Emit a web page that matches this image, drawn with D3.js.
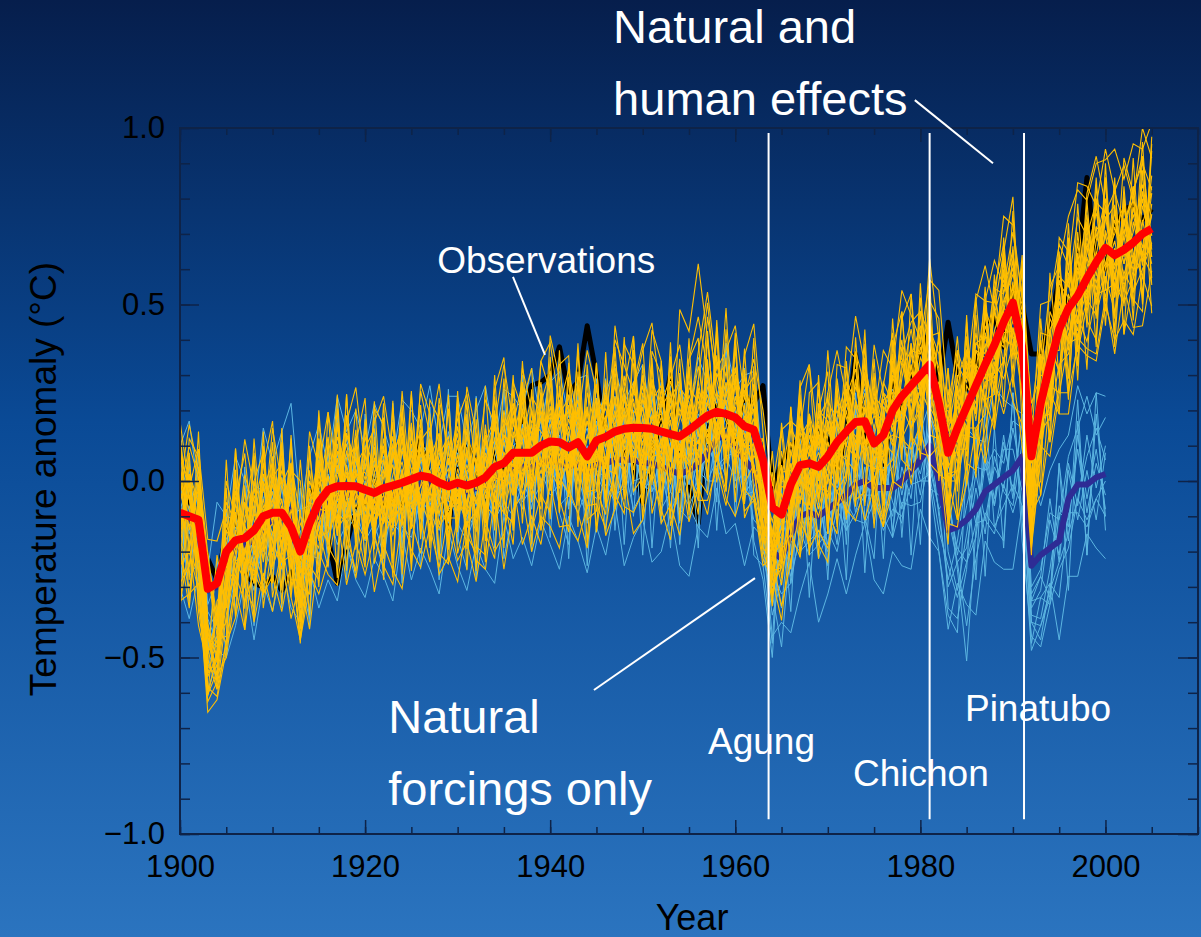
<!DOCTYPE html>
<html>
<head>
<meta charset="utf-8">
<script src="https://cdn.jsdelivr.net/npm/d3@7"></script>
<style>
  html, body { margin: 0; padding: 0; background: #0b4a95; }
  svg { display: block; font-family: "Liberation Sans", Arial, sans-serif; }
</style>
</head>
<body>
<svg id="chart" width="1201" height="937"></svg>
<script>
// Global temperature anomaly: model runs with natural + human forcings (yellow)
// vs natural forcings only (light blue), ensemble means and observations.

const firstYear = 1900;

// multi-model mean, natural + human forcings (°C), 1900-2005
const allForcingMean = [
  -0.09, -0.10, -0.11, -0.305, -0.29, -0.20, -0.168, -0.162, -0.14, -0.10,
  -0.09, -0.09, -0.13, -0.20, -0.12, -0.06, -0.025, -0.015, -0.014, -0.015,
  -0.025, -0.034, -0.02, -0.013, -0.005, 0.005, 0.015, 0.01, -0.005, -0.015,
  -0.005, -0.013, -0.005, 0.01, 0.04, 0.05, 0.08, 0.08, 0.08, 0.10,
  0.112, 0.11, 0.095, 0.11, 0.07, 0.115, 0.125, 0.14, 0.148, 0.151,
  0.15, 0.148, 0.14, 0.133, 0.126, 0.144, 0.165, 0.185, 0.196, 0.19,
  0.18, 0.155, 0.145, 0.06, -0.075, -0.095, -0.01, 0.045, 0.05, 0.04,
  0.07, 0.11, 0.14, 0.167, 0.169, 0.106, 0.13, 0.20, 0.24, 0.27,
  0.30, 0.33, 0.22, 0.08, 0.15, 0.21, 0.27, 0.33, 0.385, 0.45,
  0.505, 0.38, 0.07, 0.22, 0.33, 0.43, 0.49, 0.525, 0.575, 0.62,
  0.66, 0.64, 0.655, 0.675, 0.70, 0.715
];

// multi-model mean, natural forcings only (°C), 1900-2000
const naturalMean = [
  -0.10, -0.11, -0.13, -0.31, -0.30, -0.24, -0.19, -0.18, -0.17, -0.13,
  -0.11, -0.10, -0.08, -0.20, -0.15, -0.10, -0.06, -0.04, -0.04, -0.04,
  -0.05, -0.06, -0.05, -0.04, -0.03, -0.02, -0.01, -0.01, -0.02, 0.0,
  -0.02, -0.03, -0.02, -0.01, 0.01, 0.02, 0.04, 0.04, 0.04, 0.05,
  0.06, 0.05, 0.04, 0.05, 0.02, 0.05, 0.05, 0.06, 0.06, 0.06,
  0.05, 0.05, 0.04, 0.03, 0.02, 0.03, 0.05, 0.08, 0.12, 0.13,
  0.10, 0.06, 0.03, -0.06, -0.20, -0.22, -0.15, -0.10, -0.09, -0.10,
  -0.08, -0.06, -0.04, -0.01, 0.0, -0.02, -0.02, -0.02, 0.0, 0.03,
  0.06, 0.10, 0.0, -0.14, -0.13, -0.11, -0.08, -0.03, -0.01, 0.01,
  0.03, 0.07, -0.24, -0.21, -0.19, -0.17, -0.05, -0.01, -0.01, 0.01,
  0.02
];

// observations (°C), 1900-2005
const observed = [
  -0.01, -0.05, -0.14, -0.22, -0.28, -0.15, -0.10, -0.26, -0.29, -0.30,
  -0.27, -0.31, -0.26, -0.24, -0.04, 0.0, -0.16, -0.29, -0.18, -0.08,
  -0.06, 0.01, -0.07, -0.05, -0.07, -0.01, 0.12, 0.0, 0.02, -0.14,
  0.08, 0.11, 0.05, -0.08, 0.08, 0.02, 0.06, 0.18, 0.27, 0.28,
  0.30, 0.38, 0.25, 0.28, 0.44, 0.30, 0.12, 0.16, 0.08, 0.05,
  -0.06, 0.07, 0.18, 0.30, 0.02, -0.02, -0.12, 0.15, 0.22, 0.18,
  0.12, 0.24, 0.22, 0.27, -0.02, 0.05, 0.10, 0.12, 0.10, 0.14,
  0.12, 0.03, 0.13, 0.36, 0.10, 0.12, -0.02, 0.28, 0.20, 0.30,
  0.37, 0.42, 0.28, 0.45, 0.30, 0.26, 0.32, 0.45, 0.46, 0.38,
  0.55, 0.50, 0.36, 0.36, 0.45, 0.57, 0.48, 0.62, 0.86, 0.62,
  0.60, 0.72, 0.77, 0.78, 0.74, 0.77
];

// individual runs, natural + human forcings: departures from the mean (hundredths °C), 1900-2005
const allForcingRuns = [
  [12,-4,9,-18,-10,6,-2,13,-7,5, -11,8,2,-13,10,-5,12,-6,3,-9, 7,-3,11,-8,4,-12,6,1,-9,10, -6,9,-2,14,-8,3,-7,11,2,-6, 13,-4,6,-11,5,12,-3,9,-13,7, -5,11,-4,8,-9,3,16,-2,6,-7, 9,-10,13,-16,-7,11,-4,8,12,-9, 4,-11,10,15,-7,2,-13,9,11,-5, 13,-8,4,-20,10,-3,15,-7,9,12, -6,8,-18,11,-9,13,3,-10,16,-4, 9,-7,12,-5,10,-8],
  [-8,15,-3,-25,-20,-6,8,-5,10,-3, 6,-9,14,4,-7,11,-2,8,-12,5, -4,10,-7,3,12,-5,8,-10,6,-2, 11,-6,4,-9,15,2,-4,7,-8,13, -3,9,-6,16,-2,7,11,-5,4,-9, 10,-3,12,-7,5,14,-4,28,9,-2, -5,12,-3,6,-14,-8,9,-2,14,5, 12,-3,8,-6,16,9,4,13,-2,10, 6,15,-5,9,18,7,12,3,16,8, 14,5,-10,20,8,15,6,22,12,17, 10,18,7,15,20,11],
  [-15,-10,-20,-32,-28,-14,-9,4,-12,-6, -3,-14,-8,2,-11,-6,-15,-3,-9,-1, -12,-5,-2,-14,-7,0,-10,-4,-13,-6, -2,-11,-8,3,-9,-14,-5,-1,-10,-4, -8,-13,-2,-6,-15,-3,-9,-12,-1,-7, -11,-4,-8,-14,-2,-9,-5,-13,-3,-10, -6,-2,-12,-8,-18,-15,-4,-9,-13,-6, -10,-3,-8,-14,-5,-11,-2,-7,-12,-9, -4,-13,-10,-6,-12,-8,-15,-5,-9,-11, -7,-14,-20,-8,-15,-10,-13,-6,-18,-9, -12,-8,-15,-10,-6,-13],
  [20,5,-12,10,-22,2,14,-8,6,15, -2,10,-10,-18,4,14,-8,2,12,-4, 15,6,-9,9,-3,7,-11,13,2,-7, 8,-2,12,-6,6,11,-10,4,16,9, -7,14,2,-4,10,-8,5,13,-6,11, 3,-9,7,12,-4,10,-1,6,-11,8, 14,4,-6,-4,-20,2,12,-5,3,13, -8,7,14,-2,8,-12,6,-9,5,16, -3,10,14,-8,-12,6,-5,11,-4,3, 12,-9,-8,-14,4,-6,10,-3,7,14, -5,12,-2,8,-6,15],
  [5,20,12,-10,-30,-18,-5,10,3,-12, 9,3,-7,-5,15,-11,4,-14,8,11, -9,2,5,-12,10,3,-6,8,-3,13, -4,14,6,-2,-12,8,2,-9,6,-2, 5,-10,11,4,-8,-2,14,-6,9,-3, 15,-7,2,-5,11,-8,9,3,-4,12, -2,8,5,-20,-12,-6,3,14,-8,2, 9,-4,-7,5,-10,13,8,-3,14,-8, 5,-4,18,-10,3,10,-8,16,2,-7, 3,16,5,-6,-12,4,-9,7,-5,10, 3,-4,8,12,-9,4],
  [-20,-14,6,-28,-32,-25,-12,-3,-15,2, -8,-16,5,-2,-12,3,-5,10,-3,-14, 2,-9,-4,6,-10,12,2,-5,11,-10, 4,-5,10,-3,6,-4,12,-5,-3,8, -10,6,-8,3,-5,9,-7,2,10,-4, -2,6,-10,4,-12,20,30,13,-6,4, -10,3,-8,6,-10,-20,-8,4,-2,-12, -3,12,4,-10,4,-4,-6,10,-8,2, -10,4,-3,12,-6,-12,4,-10,-14,2, -8,-3,8,-10,5,-12,-4,12,-8,3, -14,2,-10,-5,12,-8],
  [2,-8,15,6,-15,14,5,-10,-3,8, 14,-4,-12,8,-5,6,-3,-10,15,4, -6,13,-10,2,-8,5,13,-7,6,-2, 12,3,-9,7,-4,15,-2,-8,9,4, -2,8,14,-6,10,-5,3,-8,12,-10, 8,2,-5,15,6,-3,-8,12,-2,9, -6,14,0,-12,2,14,-10,3,-6,9, -12,3,12,-8,13,-5,10,-6,2,-3, 8,-6,-12,14,-8,16,2,-4,10,-12, 5,-10,-14,4,13,-3,9,-12,3,8, -6,10,-4,3,14,-2],
  [-5,8,-14,-30,-5,-10,16,2,-15,10, -14,18,-6,-25,-12,10,-18,5,-6,16, -12,4,-16,12,-5,16,-12,5,14,-9, -10,16,-14,5,11,-10,18,-12,-5,15, -14,4,12,-16,18,3,-12,15,-8,2, -9,14,6,-12,2,-14,12,-8,16,-12, 12,-14,10,-25,-15,18,-5,10,-12,16, 10,-12,2,-4,-8,15,-14,16,-10,6, -14,12,8,-15,15,-10,6,-12,14,-5, -12,12,-22,-4,-14,8,-10,5,18,-12, 12,-10,4,-14,3,10],
  [8,2,-6,-22,-8,-3,-15,6,9,-13, 4,-7,9,-10,-3,-13,7,-2,-5,8, -2,-12,5,-3,13,-7,-3,11,-1,5, -12,4,7,-10,2,-6,8,3,-12,2, 7,-5,-3,9,-12,4,8,-3,6,-12, 3,-12,10,-2,-6,7,-3,-10,11,3, -11,-4,6,-8,-12,-4,6,-11,8,-3, 14,-6,-2,10,2,-8,12,2,-9,12, -6,3,-8,5,-4,12,-10,9,-6,5, 10,-5,-10,-12,10,5,-6,15,-10,6, 14,-12,6,-8,4,-10],
  [-10,12,5,-14,-18,8,-6,-12,14,-6, 10,14,-4,-8,-12,18,-10,14,5,-12, 10,-6,14,-4,-12,2,10,-12,8,14, -6,11,-12,10,14,-8,4,16,-10,12, 20,-8,15,5,-10,16,-9,20,2,-6, 14,6,-12,10,16,-4,12,32,5,-10, 4,10,-12,-2,-8,-10,16,5,-10,12, -2,14,-10,6,-3,10,-8,4,16,-12, -8,15,-5,4,8,-14,10,-3,-8,15, -10,4,-6,12,-10,18,-8,-4,12,-8, 8,14,-9,10,-4,12],
  [-12,-20,-8,-30,-20,-12,3,-14,-6,-18, -6,2,-15,-8,3,-10,-12,-6,4,-10, -14,-2,-8,-12,2,-10,-6,-14,3,-8, -3,-12,5,-8,-14,-2,-12,-6,5,-10, -5,-10,-13,2,-10,-14,4,-8,-12,-2, -10,-14,-2,-10,-3,-12,-8,-4,-14,-6, -12,-5,-10,-12,-25,-10,-14,-4,-8,-14, -6,-14,-12,2,-12,-7,-10,-14,-3,-12, -10,-2,-14,-8,-15,-6,-12,-14,-5,-16, -12,-8,-25,-14,-6,-18,-10,-12,-6,-15, -8,-16,-6,-14,-10,-4],
  [15,10,-4,-12,-26,-8,10,3,-2,8, -3,12,7,-4,12,-2,-6,12,-8,6, 12,-8,3,14,-6,-3,4,8,-12,3, 14,-8,2,10,-3,-5,14,-3,12,-4, -8,12,-4,10,-6,8,-12,5,-4,13, -3,8,13,-8,12,-6,4,10,-9,6, 10,-3,3,-14,-18,4,-8,13,4,-10, 6,9,-4,12,-6,8,-2,-12,8,10, -5,8,10,-4,-6,13,-3,6,-13,9, 15,-4,4,-8,15,-2,12,-7,-4,16, -2,6,13,-3,-12,7],
  [-25,-22,-18,-35,-33,-28,-10,-18,-12,-22, -15,-8,-20,-25,-18,-6,-2,-12,-8,3, 5,-4,-10,-2,6,-8,-3,2,-6,-12, 2,-8,-4,6,-10,3,-2,-12,-6,2, 8,-2,-9,2,12,-3,-8,-2,4,8, -7,3,5,-5,8,-2,-6,4,-4,-8, 3,-6,-4,-10,-22,-15,-6,-3,5,-6, 8,-5,6,-12,4,-3,10,5,-8,-2, 10,-12,-6,-4,12,-8,5,-10,4,6, 8,12,-8,-6,-5,10,-12,4,9,-10, 5,-3,9,-10,8,-5],
  [6,-3,10,8,-12,10,-9,4,12,-4, 8,-2,10,-6,-8,4,15,-4,10,-2, -4,8,-2,10,-4,10,-8,-3,6,12, 6,-2,10,-12,3,8,-4,12,5,-8, 4,12,-8,6,-2,-6,10,2,-4,10, 5,-6,8,3,-6,12,6,-8,14,6, -4,10,15,-8,-4,8,-2,12,2,14, 16,5,-2,20,10,4,15,2,12,18, 18,8,20,6,14,16,4,18,24,10, 20,14,15,8,22,18,26,30,22,28, 25,30,20,28,24,30],
  [-3,6,-10,-18,-15,-20,-6,-4,5,-10, 12,-12,-3,-20,-6,4,8,-8,-10,4, -8,6,8,-10,-6,8,-12,6,4,-4, -8,6,-6,2,12,-12,6,-3,8,-12, 2,-12,4,12,-4,-8,6,-12,8,4, -12,4,-8,6,-6,4,-6,8,2,-12, 6,-6,8,-6,-14,-4,10,-10,-3,4, -6,12,-4,-10,6,-10,-6,3,-5,6, -12,6,-4,8,-10,4,-8,14,-10,-3, -8,10,-2,-6,6,-12,4,-8,6,-12, -6,4,-12,6,-8,-4],
  [26,8,20,14,12,12,-4,18,6,-8, 16,-6,18,10,-2,12,-6,-4,14,8, -4,12,-6,8,16,-4,10,14,-6,-4, 16,2,-6,12,-6,10,14,-8,4,18, -6,6,10,-4,14,-6,12,-4,15,-3, 12,-4,4,-6,14,8,-12,4,10,14, -8,2,9,-6,-8,12,4,-6,14,-4, 10,-8,14,6,-2,12,-6,12,-4,8, 14,-10,6,-8,6,-4,12,8,-8,4, -4,6,12,-10,4,14,-2,10,-6,2, 12,-6,4,16,-8,10],
  [-8,-14,4,-24,-22,-4,-12,10,-4,3, -6,4,-10,-12,6,-2,4,-10,6,-6, 4,-10,8,-6,3,-14,8,-4,10,-3, 8,-6,13,-4,-2,6,-10,6,-3,10, -4,8,-3,-8,6,-4,-6,10,-6,-3, 6,-8,-6,12,-4,-10,8,-6,5,3, -8,6,-10,-22,-10,-2,6,-8,10,-4, 4,-8,10,-8,14,-6,4,-10,10,-8, -4,10,-3,10,-2,-8,6,-4,10,-6, 6,-4,-12,8,-4,6,-10,8,-4,10, -10,8,-4,10,-6,4],
  [4,12,-15,-30,-25,-12,6,-6,-10,12, 2,-10,12,-22,-10,8,-8,6,-3,12, -6,-2,12,-5,9,-2,-10,10,-4,8, -6,10,-10,2,8,-4,10,-10,12,-6, 10,-6,8,-4,-8,10,-3,6,-10,4, 8,-2,-6,10,-8,6,-10,14,-6,-4, 14,-8,-4,-18,-14,6,-12,6,-8,10, -4,6,-14,12,-6,2,12,-4,-6,4, -8,14,-6,-14,8,-6,10,2,-4,14, -10,-6,-20,14,-8,4,8,-14,10,-6, 4,-12,8,-6,12,-2],
  [22,-18,25,-12,-28,18,-22,15,-25,20, -15,24,-20,12,-26,18,-10,22,-24,14, -20,16,-26,22,-12,25,-18,10,-22,26, -14,20,-25,15,-18,24,-12,20,-26,16, -22,26,-14,18,-25,12,-20,24,-16,22, -18,14,-24,20,-12,26,-22,16,-20,24, -16,22,-18,-28,-20,24,-14,20,-26,18, -22,16,-25,24,-12,20,-24,14,-18,26, -20,24,-14,-26,22,-18,25,-12,20,-24, 16,-22,-28,24,-16,22,-20,26,-14,18, -22,20,-16,24,-18,22],
  [-28,12,-24,-20,8,-16,26,-10,20,-22, 14,-26,18,-20,10,-24,22,-14,26,-18, 20,-12,24,-22,16,-26,12,-20,22,-16, 26,-18,14,-24,20,-10,-26,18,-14,24, 14,-20,24,-12,22,-26,16,-18,-24,12, 24,-16,20,-26,-14,18,-20,24,-12,-22, 20,-14,26,-18,-24,-12,22,-20,14,-26, 18,-24,12,-16,26,-20,14,22,-18,-24, 26,-16,20,-22,-12,24,-26,18,-14,20, -24,18,-12,-22,26,-14,18,-24,22,-16, 20,-26,14,-18,22,-14],
  [8,26,14,10,-10,20,6,28,12,-4, 24,8,18,-2,26,10,22,4,18,28, 6,20,26,8,16,-4,24,12,28,6, 18,26,4,22,12,28,8,20,-2,24, 28,10,22,6,30,14,4,26,18,10, 22,30,8,16,26,4,20,35,12,18, 26,8,20,14,6,24,18,10,28,6, 18,26,10,30,16,8,24,12,30,20, 10,24,32,14,22,8,26,18,12,30, 22,14,4,28,18,24,12,32,26,16, 28,18,24,12,30,20],
  [-26,-8,-30,-22,-26,-30,-14,-26,-8,-22, -18,-28,-10,-24,-14,-26,-20,-8,-28,-16, -24,-12,-22,-28,-10,-20,-26,-14,-24,-8, -22,-16,-28,-12,-24,-20,-8,-26,-18,-28, -12,-24,-22,-28,-14,-18,-26,-10,-22,-24, -18,-8,-26,-20,-28,-12,-22,-24,-16,-26, -10,-24,-20,-30,-14,-26,-22,-12,-24,-18, -26,-14,-22,-28,-18,-10,-24,-20,-26,-14, -22,-26,-12,-20,-28,-16,-24,-18,-10,-26, -20,-28,-22,-12,-26,-18,-24,-14,-22,-28, -16,-24,-20,-26,-12,-22],
  [16,-24,8,-14,-20,26,-16,6,22,-26, -8,20,-18,26,-12,-22,14,-26,20,-10, -22,26,-14,-8,20,-24,16,-18,-6,22, -20,-8,24,-16,-26,14,-22,26,-10,-18, 24,-16,-24,20,-8,22,-20,-12,26,-18, -14,22,16,-24,18,-10,-26,22,-8,16, -24,16,-12,-10,-26,14,-24,18,-6,22, -16,-26,20,-14,18,-24,8,-20,24,-10, 18,-20,-10,24,-26,16,-8,22,-24,-12, 26,-14,-26,-16,10,-24,20,-16,-8,24, -18,14,-24,-10,26,-16],
  [-18,22,18,-10,-22,-10,20,-26,14,18, -24,-10,24,-16,20,-8,-22,18,-14,-24, 12,18,-20,24,-26,14,-16,22,18,-22, -10,24,-18,-22,16,-24,20,12,-22,-14, -20,16,-10,26,-18,-20,24,-22,10,-16, 18,-24,-14,22,-16,20,24,-18,22,-20, 12,-22,18,-16,10,-18,-8,24,-20,16, 24,-18,-14,20,-24,18,-20,26,-12,-18, -14,18,24,-18,12,-22,20,-26,16,22, -14,26,-8,18,-22,12,-26,18,-12,-22, 24,-18,16,-22,18,-24],
  [12,6,-16,-14,-24,-12,12,24,-6,14, 26,-12,16,20,-18,26,-12,18,-4,22, -14,24,18,-12,26,-6,20,-16,24,10, -8,28,14,-12,22,30,-10,24,12,-16, 30,18,-14,28,-8,22,-18,30,12,26, -10,28,20,-14,36,28,45,22,-8,30, -14,20,30,8,-12,26,-6,22,28,-10, 30,-8,24,18,-12,28,12,-6,22,26, -6,30,18,8,26,-12,24,28,10,20, 30,-6,12,18,-10,26,16,-8,24,30, 12,-10,26,14,22,-6],
  [-10,-26,4,-20,-30,-26,-22,-8,-26,-16, -28,-12,-26,-8,-30,-14,-24,-28,-10,-26, -8,-28,-16,-24,-30,-12,-22,-8,-26,-20, -28,-10,-22,-26,-8,-30,-16,-12,-28,-20, -24,-30,-12,-20,-26,-8,-28,-22,-14,-30, -26,-12,-22,-30,-8,-26,-18,-28,-12,-24, -28,-16,-10,-26,-20,-30,-14,-26,-10,-22, -30,-8,-24,-16,-28,-12,-26,-22,-8,-28, -16,-28,-20,-8,-26,-22,-12,-28,-18,-10, -28,-22,-16,-26,-8,-24,-30,-12,-20,-26, -14,-28,-10,-24,-26,-12],
  [-6,18,-26,-24,-16,-24,26,-14,-22,24, -20,16,-8,-26,22,-20,-6,26,-18,12, 26,-20,-8,18,-22,24,-12,-24,14,-18, 22,-14,-20,26,-16,-6,22,-20,18,-24, -12,22,26,-18,14,-26,-6,-20,24,18, -26,20,-18,-6,22,-24,10,-18,24,-22, 22,-26,-18,-20,-28,10,18,-26,20,24, -22,18,-6,-24,22,-16,-26,20,-14,12, -24,16,-22,18,-16,26,-22,-10,-24,18, -20,24,10,-26,-18,20,-24,12,-26,22, -12,22,-24,16,-20,26],
  [24,-10,12,6,-12,-26,18,-20,26,-10, 20,-22,26,-10,-20,24,-16,-22,26,-16, 18,-16,20,-26,22,-14,26,18,-20,-22, 24,-24,18,-18,26,-14,-20,14,24,-24, 18,-20,20,-24,26,-14,-22,18,-20,26, -22,18,-20,26,-24,18,-16,-22,26,-14, 24,-18,-20,-24,16,-14,22,-16,-22,26, -20,22,18,-22,-20,24,-14,18,24,-16, 22,-14,-20,24,-18,20,-24,16,-22,24, -16,22,-24,14,-22,-16,24,-20,16,-24, 20,-22,18,-16,-22,24]
];

// individual runs, natural forcings only: departures from their mean (hundredths °C), 1900-2000
const naturalRuns = [
  [10,-8,6,-15,-10,8,-4,12,-6,3, -9,11,-3,6,-12,4,14,-5,8,-10, 5,-6,12,-9,3,-11,7,13,-4,6, -8,10,-5,4,-12,9,-3,-9,5,12, -6,8,-11,4,13,-3,-9,10,-5,2, 12,-8,4,-10,6,-4,9,-12,3,8, -5,10,-3,-8,-14,6,-10,5,12,-6, 4,-12,8,-5,10,-3,-9,12,-4,6, -10,8,12,-6,-18,-4,10,-8,5,-3, 12,-6,-12,-10,8,-4,10,-6,14,-3, 8],
  [-12,15,-6,-10,-20,-4,10,-12,8,14, 6,-14,8,-6,3,-12,6,10,-6,12, -10,8,-4,14,-8,5,-12,4,10,-6, 12,-4,8,-10,6,14,-8,4,-12,5, 8,-12,6,-4,-10,12,4,-8,14,-6, -4,10,-8,6,-14,12,-6,4,-10,14, 8,-6,12,-10,-4,-14,6,12,-8,4, -10,8,-4,12,-6,8,10,-12,4,-8, 14,-6,-8,10,-12,-40,-6,12,-4,10, -6,10,-14,-18,-6,10,-8,14,-4,8, -10],
  [4,-16,-10,-22,-14,-16,-8,4,-12,-6, -14,-4,-10,-16,-6,-12,-2,-14,-8,-4, -12,-6,-16,-2,-10,-14,-4,-8,-12,-3, -10,-14,-6,-2,-12,-8,-14,-4,-10,-6, -2,-12,-8,-14,-4,-10,-6,-12,-2,-14, -8,-4,-12,-6,-10,-14,-2,-8,-12,-6, -10,-4,-14,-8,-6,-10,-14,-4,-12,-8, -6,-14,-2,-10,-12,-4,-8,-14,-6,-10, -12,-4,-8,-16,-10,-30,-14,-6,-12,-8, -4,-14,-10,-12,-16,-8,-14,-4,-10,-6, -12],
  [16,6,12,-4,2,14,8,-2,16,10, 4,16,-2,12,8,-4,14,6,16,2, 12,-2,8,16,4,-6,12,8,-4,14, 6,14,-2,10,16,4,-6,12,8,14, -4,10,16,6,-2,14,8,12,-4,10, 6,12,18,-2,10,4,14,6,12,-4, 14,8,-2,6,-6,10,4,12,-2,8, 12,4,10,-4,8,14,2,6,12,-2, 8,12,4,10,-8,4,12,6,10,4, 14,8,-6,-4,10,6,12,16,25,12, 16],
  [-6,4,-12,-18,-6,-12,4,-8,10,-4, 8,-10,4,-6,10,-14,4,-8,-4,10, -6,12,-4,-10,6,-8,12,-6,4,-12, 10,-6,-12,8,-4,10,-6,-12,6,-8, 12,-4,-8,10,-6,4,-12,8,-10,6, -6,10,-4,8,-12,6,-8,10,-4,-12, 6,-12,8,-4,-10,4,-12,-6,10,-8, 10,-6,12,-8,4,-10,6,-4,-12,8, -6,-10,8,4,-10,-8,6,-12,8,-4, -10,4,-16,-20,-12,-6,8,-10,4,-12, 6],
  [8,-4,10,-8,-16,10,-12,4,-8,12, -6,8,-12,10,-4,6,-10,12,-6,4, 10,-8,4,-6,12,-4,8,-10,6,-8, 4,-10,8,-6,10,-12,6,8,-10,4, -8,6,-12,10,-6,-8,10,-4,6,-10, 4,-12,8,-6,10,-4,12,-8,-6,10, -12,4,-8,-12,-18,-6,10,-8,4,-12, -6,10,-8,4,-12,8,-4,10,-8,4, 10,-12,-4,8,-6,-12,-8,8,-6,12, -8,12,-10,-6,-14,8,-6,10,-8,4, -6],
  [-16,-8,4,-28,-22,-8,6,-4,-14,-2, -10,2,-8,-14,-4,8,-12,2,-10,-6, 2,-10,-4,-8,-12,2,-6,-10,-2,-8, -4,-8,2,-12,-6,-4,2,-10,-6,-2, -10,-6,2,-8,-12,-2,-4,-10,-8,2, -6,-8,-2,-12,-4,-10,-6,2,-8,-6, -2,-10,-6,-16,-12,-25,-2,-10,-8,-4, -12,-2,-10,-8,-4,-2,-12,-6,-10,-4, -6,-8,-14,-10,-20,-12,-4,-8,-14,-2, -12,-6,-22,-12,-10,-16,-4,-8,-12,-6, -2],
  [2,10,-8,-6,-12,4,10,-6,2,8, 12,-4,6,-10,12,-4,8,-2,12,-6, -4,6,10,-6,-2,10,-4,12,-8,2, -4,6,-8,12,2,-6,8,-4,12,-6, 6,-4,10,-2,8,-6,2,-12,6,12, -10,4,-4,8,4,-8,2,12,-6,6, 10,-10,-2,8,-8,12,-6,8,-4,12, -2,8,-10,6,-6,12,-2,-8,10,6, -4,4,-10,-14,-4,12,-4,10,-6,8, 6,-10,-8,-6,14,-6,-10,-4,8,14, 4],
  [-22,18,-20,-14,-26,16,-18,22,-24,14, -20,24,-16,18,-26,20,-12,22,-24,16, -18,24,-22,14,-26,18,-14,22,-20,26, -16,22,-26,14,-20,24,-18,12,-24,20, -22,16,-26,20,-14,24,-20,18,-24,14, -26,20,-16,24,-20,14,-24,22,-18,26, -20,16,-24,-18,-26,20,-14,22,-24,16, -20,24,-14,22,-26,18,-20,24,-16,14, -24,20,18,-22,-26,-14,22,-24,16,-20, 22,-18,-24,-20,-14,22,-26,18,-20,24, -16],
  [-20,-28,-14,-30,-18,-26,-22,-10,-28,-16, -26,-14,-28,-20,-10,-26,-22,-30,-14,-24, -28,-16,-22,-30,-12,-26,-18,-24,-30,-14, -22,-28,-16,-24,-30,-12,-26,-20,-28,-16, -24,-30,-14,-22,-28,-18,-26,-12,-30,-22, -16,-28,-24,-12,-26,-30,-18,-24,-14,-28, -22,-30,-16,-10,-24,-18,-28,-22,-14,-30, -24,-16,-28,-20,-12,-26,-30,-18,-24,-28, -14,-26,-20,-28,-16,-24,-30,-14,-22,-26, -28,-14,-16,-24,-10,-28,-22,-26,-14,-20, -24],
  [20,28,10,6,24,14,26,18,8,28, 16,24,30,12,22,26,10,28,18,24, 14,28,20,10,26,22,16,28,12,24, 26,14,22,28,10,24,20,16,28,12, 22,26,14,24,28,10,20,26,16,22, 28,12,24,18,26,14,30,20,10,26, 16,24,28,10,4,22,14,26,20,12, 24,28,14,20,26,10,22,28,16,24, 20,10,26,18,12,26,20,14,28,22, 18,12,26,14,22,26,18,28,20,24, 22],
  [6,-24,22,-18,8,-26,20,-12,24,-20, 12,-26,20,-8,-24,16,-18,26,-14,-22, 24,-10,-20,26,-16,12,-24,20,-26,10, -14,-22,26,-8,18,-24,-12,26,-18,10, 24,-14,-22,16,-26,8,24,-20,12,-16, 20,-24,12,-22,26,-10,-18,24,-26,14, -10,26,-20,-22,-30,14,-22,20,-12,24, -16,12,-24,26,-10,-20,22,-14,20,-24, 16,-10,-20,-24,-30,16,-20,24,-12,-18, 22,-24,-20,-26,-16,22,-12,24,-20,18, -12]
];

// volcanic eruptions marked on the chart
const volcanoNames = ['Agung', 'Chichon', 'Pinatubo'];
const volcanoYears = [1963.6, 1981.0, 1991.2];

const yTickValues = [-1.0, -0.5, 0.0, 0.5, 1.0];
const xTickValues = [1900, 1920, 1940, 1960, 1980, 2000];

// ---------------- layout ----------------
const W = 1201, H = 937;
const svg = d3.select('#chart');
const x = d3.scaleLinear().domain([1900, 2010]).range([180, 1198]);
const y = d3.scaleLinear().domain([-1, 1]).range([834, 128]);

const defs = svg.append('defs');
const grad = defs.append('linearGradient').attr('id', 'bg')
  .attr('x1', 0).attr('y1', 0).attr('x2', 0).attr('y2', 1);
grad.append('stop').attr('offset', '0%').attr('stop-color', '#061e4c');
grad.append('stop').attr('offset', '45%').attr('stop-color', '#0a4a96');
grad.append('stop').attr('offset', '100%').attr('stop-color', '#2b74bf');
defs.append('clipPath').attr('id', 'plotclip')
  .append('rect').attr('x', 180).attr('y', 128).attr('width', 1018).attr('height', 706);

svg.append('rect').attr('width', W).attr('height', H).attr('fill', 'url(#bg)');

const plot = svg.append('g').attr('clip-path', 'url(#plotclip)');
const line = d3.line().x(d => x(d[0])).y(d => y(d[1]));
const series = arr => arr.map((v, i) => [firstYear + i, v]);
const runSeries = (mean, dev) => dev.map((d, i) => [firstYear + i, mean[i] + d / 100]);

// observations underneath everything
plot.append('path').attr('d', line(series(observed)))
  .attr('fill', 'none').attr('stroke', '#000').attr('stroke-width', 5)
  .attr('stroke-linejoin', 'round');

plot.append('g').selectAll('path').data(naturalRuns).join('path')
  .attr('d', d => line(runSeries(naturalMean, d)))
  .attr('fill', 'none').attr('stroke', '#5cb6e2').attr('stroke-width', 1);

plot.append('path').attr('d', line(series(naturalMean)))
  .attr('fill', 'none').attr('stroke', '#2e2c95').attr('stroke-width', 6)
  .attr('stroke-linejoin', 'round');

plot.append('g').selectAll('path').data(allForcingRuns).join('path')
  .attr('d', d => line(runSeries(allForcingMean, d)))
  .attr('fill', 'none').attr('stroke', '#ffbf00').attr('stroke-width', 1.1);

plot.append('path').attr('d', line(series(allForcingMean)))
  .attr('fill', 'none').attr('stroke', '#ff0000').attr('stroke-width', 8)
  .attr('stroke-linejoin', 'round');

// volcano markers
svg.append('g').selectAll('line').data(volcanoYears).join('line')
  .attr('x1', d => x(d)).attr('x2', d => x(d))
  .attr('y1', y(0.986)).attr('y2', y(-0.958))
  .attr('stroke', '#fff').attr('stroke-width', 2);

// ---------------- axes ----------------
const tickColor = '#0e2348';
function styleAxis(g) {
  g.select('.domain').remove();
  g.selectAll('line').attr('stroke', tickColor).attr('stroke-width', 1.5);
  g.selectAll('text').attr('fill', '#000').attr('font-size', 31)
    .attr('font-family', '"Liberation Sans", Arial, sans-serif');
}
const xMinor = d3.range(1900, 2011, 5);
const yMinor = d3.range(-10, 11).map(v => v / 10);

svg.append('g').attr('transform', 'translate(0,834)')
  .call(d3.axisBottom(x).tickValues(xMinor).tickSize(-7).tickFormat('')).call(styleAxis);
svg.append('g').attr('transform', 'translate(0,834)')
  .call(d3.axisBottom(x).tickValues(xTickValues).tickSize(-14).tickPadding(21).tickFormat(d3.format('d')))
  .call(styleAxis);
svg.append('g').attr('transform', 'translate(0,128)')
  .call(d3.axisTop(x).tickValues(xMinor).tickSize(-7).tickFormat('')).call(styleAxis);
svg.append('g').attr('transform', 'translate(0,128)')
  .call(d3.axisTop(x).tickValues(xTickValues).tickSize(-14).tickFormat('')).call(styleAxis);

svg.append('g').attr('transform', 'translate(180,0)')
  .call(d3.axisLeft(y).tickValues(yMinor).tickSize(-10).tickFormat('')).call(styleAxis);
svg.append('g').attr('transform', 'translate(180,0)')
  .call(d3.axisLeft(y).tickValues(yTickValues).tickSize(-19).tickPadding(15).tickFormat(d3.format('.1f')))
  .call(styleAxis);
svg.append('g').attr('transform', 'translate(1198,0)')
  .call(d3.axisRight(y).tickValues(yMinor).tickSize(-10).tickFormat('')).call(styleAxis);
svg.append('g').attr('transform', 'translate(1198,0)')
  .call(d3.axisRight(y).tickValues(yTickValues).tickSize(-20).tickFormat('')).call(styleAxis);

svg.append('rect').attr('x', 180).attr('y', 128).attr('width', 1018).attr('height', 706)
  .attr('fill', 'none').attr('stroke', tickColor).attr('stroke-width', 2);

svg.append('text').attr('transform', 'translate(56,479) rotate(-90)')
  .attr('text-anchor', 'middle').attr('font-size', 37).attr('fill', '#000')
  .text('Temperature anomaly (°C)');
svg.append('text').attr('x', 692).attr('y', 930)
  .attr('text-anchor', 'middle').attr('font-size', 36).attr('fill', '#000')
  .text('Year');

// ---------------- annotations ----------------
const note = (yr, v, size, txt) => svg.append('text')
  .attr('x', x(yr)).attr('y', y(v)).attr('font-size', size).attr('fill', '#fff').text(txt);
const pointer = (y0, v0, y1, v1) => svg.append('line')
  .attr('x1', x(y0)).attr('y1', y(v0)).attr('x2', x(y1)).attr('y2', y(v1))
  .attr('stroke', '#fff').attr('stroke-width', 2);

note(1946.8, 1.241, 47, 'Natural and');
note(1946.8, 1.037, 47, 'human effects');
pointer(1979.4, 1.079, 1987.85, 0.90);

note(1927.8, 0.589, 37, 'Observations');
pointer(1935.98, 0.578, 1939.44, 0.357);

note(1922.5, -0.714, 47, 'Natural');
note(1922.5, -0.918, 47, 'forcings only');
pointer(1944.73, -0.592, 1962.13, -0.275);

const volcanoLabelYears = [1957.05, 1972.72, 1984.82];
const volcanoLabelValues = [-0.773, -0.864, -0.680];
volcanoNames.forEach((name, i) => note(volcanoLabelYears[i], volcanoLabelValues[i], 37, name));
</script>
</body>
</html>
